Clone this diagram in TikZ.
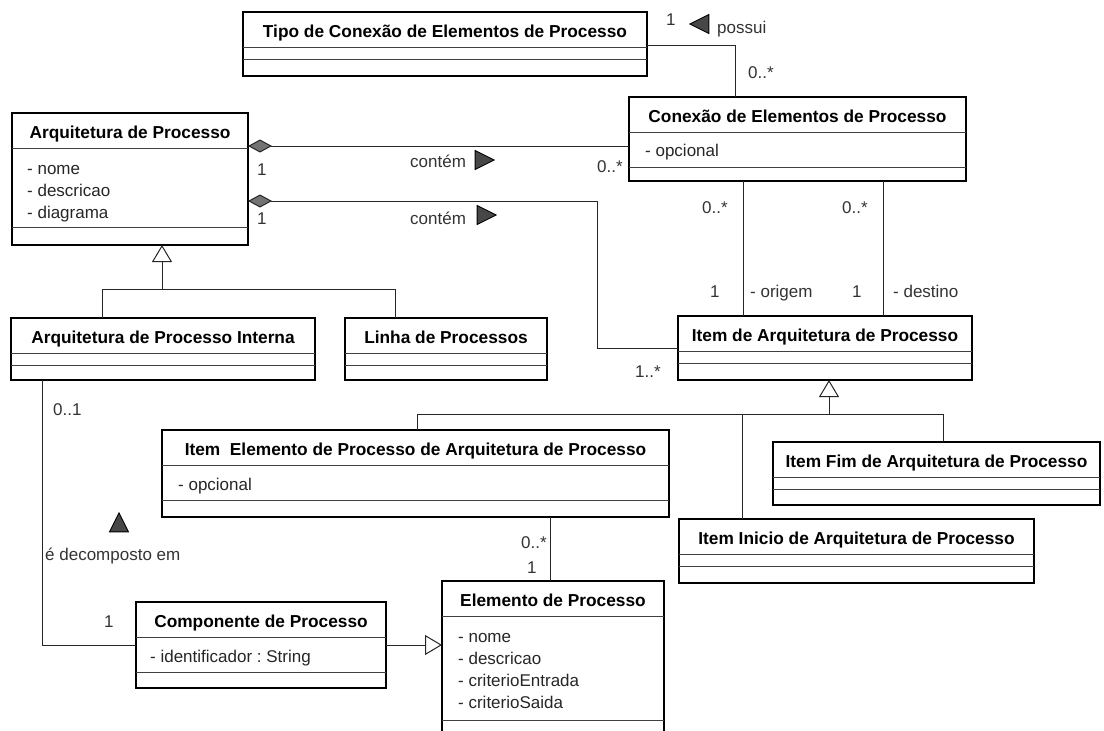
\documentclass[tikz,border=0pt]{standalone}
\usepackage{fontspec}
\setmainfont{Liberation Sans}
\usetikzlibrary{arrows.meta,calc,shapes.geometric}

% class box: name, corner, width, height, attribute part height, title
\newcommand{\umlclass}[6]{%
  \node[classbox, minimum width=#3pt, minimum height=#4pt] (#1) at (#2) {};
  \draw[divider] ($(#1.north west)+(0,35)$) -- ($(#1.north east)+(0,35)$);
  \draw[divider] ($(#1.north west)+(0,35+#5)$) -- ($(#1.north east)+(0,35+#5)$);
  \node[classtitle] (#1-t) at ($(#1.north)+(0,25)$) {#6};
}

\begin{document}
\frenchspacing
\begin{tikzpicture}[x=1pt,y=-1pt,
  font=\fontsize{17}{20}\selectfont,
  classbox/.style={draw=black,line width=2.8pt,anchor=north west,inner sep=0pt,outer sep=0pt},
  divider/.style={draw=black!75,line width=1pt},
  classtitle/.style={anchor=base,font=\fontsize{17.3}{20}\selectfont\bfseries},
  attrtext/.style={anchor=base west,inner sep=0pt,text=black!85},
  mult/.style={anchor=base west,inner sep=0pt,text=black!80},
  assoc/.style={draw=black!85,line width=1pt},
  gen/.style={assoc,-{Triangle[open,length=17pt,width=20pt]}},
  comp/.style={assoc,{Diamond[fill=black!55,length=24pt,width=13pt]}-},
  dirtri/.style={isosceles triangle,isosceles triangle stretches,fill=black!72,draw=black,
    line width=0.8pt,inner sep=0pt,minimum width=19pt,minimum height=19pt}]

\useasboundingbox (0,0) rectangle (1104,731);

% Classes
\umlclass{tip}{243,12}{404}{64}{12}{Tipo de Conexão de Elementos de Processo}
\umlclass{arq}{12,113}{236}{132}{79}{Arquitetura de Processo}
\umlclass{con}{629,97}{337}{84}{35}{Conexão de Elementos de Processo}
\umlclass{int}{11,318}{304}{62}{12}{Arquitetura de Processo Interna}
\umlclass{lin}{345,318}{202}{62}{12}{Linha de Processos}
\umlclass{itm}{678,316}{294}{64}{12}{Item de Arquitetura de Processo}
\umlclass{iel}{162,430}{507}{87}{35}{Item~~Elemento de Processo de Arquitetura de Processo}
\umlclass{ifi}{773,442}{327}{63}{12}{Item Fim de Arquitetura de Processo}
\umlclass{ini}{679,519}{355}{64}{12}{Item Inicio de Arquitetura de Processo}
\umlclass{cmp}{136,602}{250}{86}{35}{Componente de Processo}
\umlclass{ele}{442,581}{222}{160}{104}{Elemento de Processo}

% Attributes
\foreach \a [count=\i] in {nome,descricao,diagrama}
  \node[attrtext] (arq-a\i) at ($(arq.north west)+(15,39+22*\i)$) {- \a};
\node[attrtext] (con-a1) at ($(con.north west)+(16,59)$) {- opcional};
\node[attrtext] (iel-a1) at ($(iel.north west)+(16,60)$) {- opcional};
\node[attrtext] (cmp-a1) at ($(cmp.north west)+(14,60)$) {- identificador : String};
\foreach \a [count=\i] in {nome,descricao,criterioEntrada,criterioSaida}
  \node[attrtext] (ele-a\i) at ($(ele.north west)+(16,39+22*\i)$) {- \a};

% Tipo -- Conexao (possui)
\draw[assoc] ($(tip.north east)+(0,33)$) -| ($(con.north west)+(106,0)$);
\node[mult] (m1) at (666,25) {1};
\node[dirtri,shape border rotate=180] (d1) at (703,24) {};
\node[mult] (l1) at (717,33) {possui};
\node[mult] (m2) at (748,78) {0..*};

% Arquitetura -- Conexao (contem)
\draw[comp] ($(arq.north east)+(0,33)$) -- ($(con.north west)+(0,49)$);
\node[mult] (m3) at (257,175) {1};
\node[mult] (l2) at (410,167) {contém};
\node[dirtri] (d2) at (481,160) {};
\node[mult] (m4) at (597,172) {0..*};

% Arquitetura -- Item (contem)
\draw[comp] ($(arq.north east)+(0,88)$) -| ($(itm.north west)+(-81,32)$) -- ($(itm.north west)+(0,32)$);
\node[mult] (m5) at (257,224) {1};
\node[mult] (l3) at (410,224) {contém};
\node[dirtri] (d3) at (483,215) {};
\node[mult] (m6) at (635,377) {1..*};

% Conexao -- Item (origem, destino)
\draw[assoc] ($(con.south west)+(114,0)$) -- ($(itm.north west)+(65,0)$);
\draw[assoc] ($(con.south west)+(254,0)$) -- ($(itm.north west)+(205,0)$);
\node[mult] (m7) at (702,213) {0..*};
\node[mult] (m8) at (842,213) {0..*};
\node[mult] (m9) at (710,297) {1};
\node[mult] (l4) at (750,297) {- origem};
\node[mult] (m10) at (852,297) {1};
\node[mult] (l5) at (893,297) {- destino};

% Generalizations
\draw[gen] ($(int.north west)+(91,0)$) |- ($(arq.south west)+(150,44)$) -- ($(arq.south west)+(150,0)$);
\draw[assoc] ($(lin.north west)+(50,0)$) |- ($(arq.south west)+(150,44)$);
\draw[gen] ($(iel.north west)+(255,0)$) |- ($(itm.south west)+(151,34)$) -- ($(itm.south west)+(151,0)$);
\draw[assoc] ($(ifi.north west)+(170,0)$) |- ($(itm.south west)+(151,34)$);
\draw[assoc] ($(ini.north west)+(63,0)$) -- ($(itm.south west)+(64,34)$);
\draw[gen] ($(cmp.north east)+(0,43)$) -- ($(ele.north west)+(0,64)$);

% Interna -- Componente (e decomposto em)
\draw[assoc] ($(int.south west)+(31,0)$) |- ($(cmp.north west)+(0,43)$);
\node[mult] (m11) at (53,415) {0..1};
\node[dirtri,shape border rotate=90] (d4) at (119,526) {};
\node[mult] (l6) at (45,560) {é decomposto em};
\node[mult] (m12) at (104,627) {1};

% Item Elemento -- Elemento
\draw[assoc] ($(iel.south west)+(388,0)$) -- ($(ele.north west)+(108,0)$);
\node[mult] (m13) at (521,548) {0..*};
\node[mult] (m14) at (527,573) {1};

\end{tikzpicture}
\end{document}
